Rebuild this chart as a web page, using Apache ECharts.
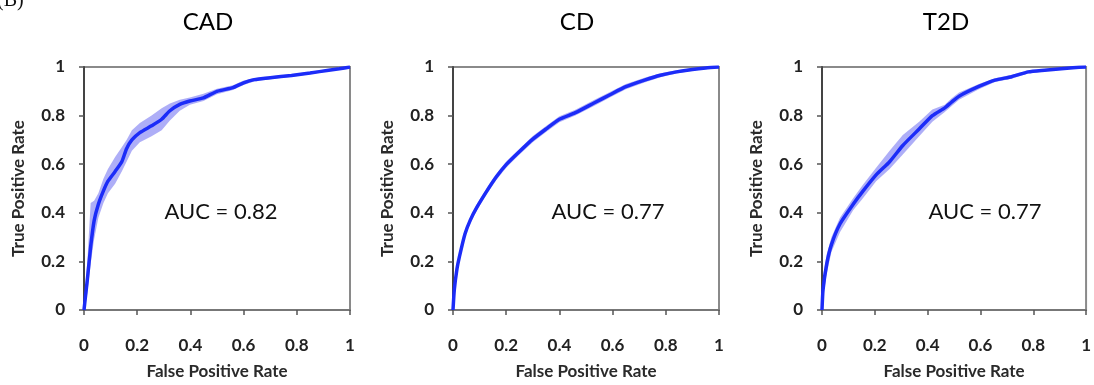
<!DOCTYPE html>
<html>
<head>
<meta charset="utf-8">
<script src="https://cdn.jsdelivr.net/npm/echarts@6/dist/echarts.min.js"></script>
<style>
  html, body { margin: 0; padding: 0; background: #fff; }
  #chart { width: 1094px; height: 385px; }
</style>
</head>
<body>
<div id="chart"></div>
<script>
// panel titles and AUC values
const panelNames = ["CAD", "CD", "T2D"];
const aucLabels = ["AUC = 0.82", "AUC = 0.77", "AUC = 0.77"];

// CAD roc curve (mean) and band
const cadFpr = [0, 0.005, 0.0125, 0.025, 0.038, 0.054, 0.073, 0.09, 0.117, 0.142, 0.16, 0.18, 0.21, 0.254, 0.292, 0.323, 0.36, 0.398, 0.449, 0.5, 0.56, 0.6, 0.64, 0.7, 0.78, 0.85, 0.92, 0.96, 1];
const cadTpr = [0, 0.05, 0.124, 0.26, 0.367, 0.435, 0.49, 0.53, 0.57, 0.61, 0.664, 0.7, 0.73, 0.758, 0.785, 0.82, 0.846, 0.86, 0.873, 0.9, 0.915, 0.935, 0.948, 0.956, 0.965, 0.975, 0.987, 0.993, 1];
const cadLow = [0, 0.02, 0.07, 0.19, 0.29, 0.38, 0.44, 0.48, 0.52, 0.57, 0.61, 0.655, 0.69, 0.715, 0.74, 0.78, 0.82, 0.845, 0.86, 0.888, 0.905, 0.926, 0.94, 0.95, 0.96, 0.97, 0.982, 0.99, 1];
const cadHigh = [0.02, 0.1, 0.2, 0.44, 0.45, 0.48, 0.54, 0.58, 0.63, 0.67, 0.7, 0.74, 0.77, 0.8, 0.83, 0.85, 0.865, 0.875, 0.89, 0.91, 0.925, 0.944, 0.955, 0.962, 0.97, 0.98, 0.992, 0.996, 1];

// CD
const cdFpr = [0, 0.005, 0.015, 0.024, 0.045, 0.065, 0.089, 0.127, 0.163, 0.2, 0.25, 0.3, 0.35, 0.4, 0.46, 0.53, 0.59, 0.65, 0.72, 0.78, 0.84, 0.9, 0.95, 1];
const cdTpr = [0, 0.084, 0.17, 0.219, 0.313, 0.37, 0.421, 0.489, 0.548, 0.598, 0.652, 0.703, 0.745, 0.785, 0.812, 0.852, 0.886, 0.919, 0.946, 0.966, 0.98, 0.99, 0.996, 1];
const cdLow = [0, 0.07, 0.155, 0.205, 0.3, 0.357, 0.408, 0.476, 0.535, 0.585, 0.64, 0.69, 0.733, 0.773, 0.8, 0.84, 0.875, 0.908, 0.936, 0.958, 0.973, 0.985, 0.993, 1];
const cdHigh = [0.02, 0.1, 0.185, 0.233, 0.326, 0.383, 0.434, 0.502, 0.561, 0.611, 0.664, 0.716, 0.757, 0.797, 0.824, 0.864, 0.897, 0.93, 0.956, 0.974, 0.987, 0.995, 0.999, 1];

// T2D
const t2dFpr = [0, 0.004, 0.018, 0.036, 0.068, 0.118, 0.155, 0.205, 0.256, 0.306, 0.368, 0.418, 0.465, 0.49, 0.519, 0.594, 0.655, 0.718, 0.781, 0.843, 0.906, 0.95, 1];
const t2dTpr = [0, 0.084, 0.19, 0.27, 0.354, 0.435, 0.489, 0.556, 0.61, 0.677, 0.745, 0.8, 0.832, 0.855, 0.88, 0.92, 0.946, 0.96, 0.98, 0.987, 0.993, 0.997, 1];
const t2dLow = [0, 0.05, 0.15, 0.24, 0.32, 0.41, 0.46, 0.53, 0.58, 0.64, 0.715, 0.775, 0.815, 0.838, 0.865, 0.908, 0.938, 0.952, 0.973, 0.982, 0.989, 0.994, 1];
const t2dHigh = [0.02, 0.14, 0.23, 0.3, 0.38, 0.46, 0.515, 0.585, 0.655, 0.72, 0.775, 0.825, 0.845, 0.87, 0.895, 0.93, 0.954, 0.968, 0.986, 0.992, 0.996, 0.999, 1];

const panels = [
  { fpr: cadFpr, tpr: cadTpr, low: cadLow, high: cadHigh },
  { fpr: cdFpr, tpr: cdTpr, low: cdLow, high: cdHigh },
  { fpr: t2dFpr, tpr: t2dTpr, low: t2dLow, high: t2dHigh },
];

const gridLefts = [84, 453, 822];
const aucCenters = [221, 608, 985];
const gridTop = 67;
const gridW = 266;
const gridH = 247;

const lineColor = "#1c2cf8";
const bandColor = "rgba(120, 120, 242, 0.6)";
const labelFont = "Lato";

const chart = echarts.init(document.getElementById("chart"));

const grids = [];
const xAxes = [];
const yAxes = [];
const series = [];
const graphics = [];

panels.forEach((p, i) => {
  grids.push({
    left: gridLefts[i],
    top: gridTop,
    width: gridW,
    height: gridH,
    show: true,
    borderColor: "#8a8a8a",
    borderWidth: 2,
    backgroundColor: "transparent",
  });
  xAxes.push({
    gridIndex: i,
    type: "value",
    min: 0,
    max: 1,
    interval: 0.2,
    name: "False Positive Rate",
    nameLocation: "middle",
    nameGap: 53,
    nameTextStyle: { fontFamily: labelFont, fontWeight: "bold", fontSize: 17, color: "#2a2a2a" },
    axisLine: { show: true, onZero: false, lineStyle: { color: "#777", width: 2 } },
    axisTick: { show: true, inside: false, length: 5, lineStyle: { color: "#555", width: 1.5 } },
    axisLabel: { margin: 27, fontFamily: labelFont, fontWeight: "bold", fontSize: 17, color: "#222" },
    splitLine: { show: false },
  });
  yAxes.push({
    gridIndex: i,
    type: "value",
    min: 0,
    max: 1,
    interval: 0.2,
    name: "True Positive Rate",
    nameLocation: "middle",
    nameGap: 57,
    nameTextStyle: { fontFamily: labelFont, fontWeight: "bold", fontSize: 17, color: "#2a2a2a" },
    axisLine: { show: true, onZero: false, lineStyle: { color: "#444", width: 2 } },
    axisTick: { show: true, inside: false, length: 5, lineStyle: { color: "#555", width: 1.5 } },
    axisLabel: { margin: 19, fontFamily: labelFont, fontWeight: "bold", fontSize: 17, color: "#222" },
    splitLine: { show: false },
  });

  // shaded band between low and high
  series.push({
    type: "custom",
    xAxisIndex: i,
    yAxisIndex: i,
    data: p.fpr.map((x, k) => [x, p.low[k], p.high[k]]),
    encode: { x: 0, y: [1, 2] },
    silent: true,
    z: 2,
    renderItem: (params, api) => {
      if (params.dataIndex !== 0) {
        return null;
      }
      const top = p.fpr.map((x, k) => api.coord([x, p.high[k]]));
      const bottom = p.fpr.map((x, k) => api.coord([x, p.low[k]])).reverse();
      return {
        type: "polygon",
        shape: { points: top.concat(bottom) },
        style: { fill: bandColor },
      };
    },
  });
  series.push({
    type: "line",
    xAxisIndex: i,
    yAxisIndex: i,
    data: p.fpr.map((x, k) => [x, p.tpr[k]]),
    showSymbol: false,
    smooth: 0.2,
    lineStyle: { color: lineColor, width: 3.5 },
    z: 3,
  });

  const cx = gridLefts[i] + gridW / 2;
  graphics.push({
    type: "text",
    x: cx - 9,
    y: 22,
    style: {
      text: panelNames[i],
      font: '24px "Lato"',
      fill: "#000",
      textAlign: "center",
      textVerticalAlign: "middle",
      align: "center",
      verticalAlign: "middle",
    },
  });
  graphics.push({
    type: "text",
    x: aucCenters[i],
    y: 212,
    style: {
      text: aucLabels[i],
      font: '22px "Lato"',
      fill: "#111",
      textAlign: "center",
      textVerticalAlign: "middle",
      align: "center",
      verticalAlign: "middle",
    },
  });
});

// panel letter, cut off at the top edge like the source figure
graphics.push({
  type: "text",
  x: -3,
  y: -9,
  style: { text: "(B)", font: '20px "Liberation Serif"', fill: "#111" },
});

chart.setOption({
  animation: false,
  backgroundColor: "#fff",
  grid: grids,
  xAxis: xAxes,
  yAxis: yAxes,
  series: series,
  graphic: graphics,
});
</script>
</body>
</html>
